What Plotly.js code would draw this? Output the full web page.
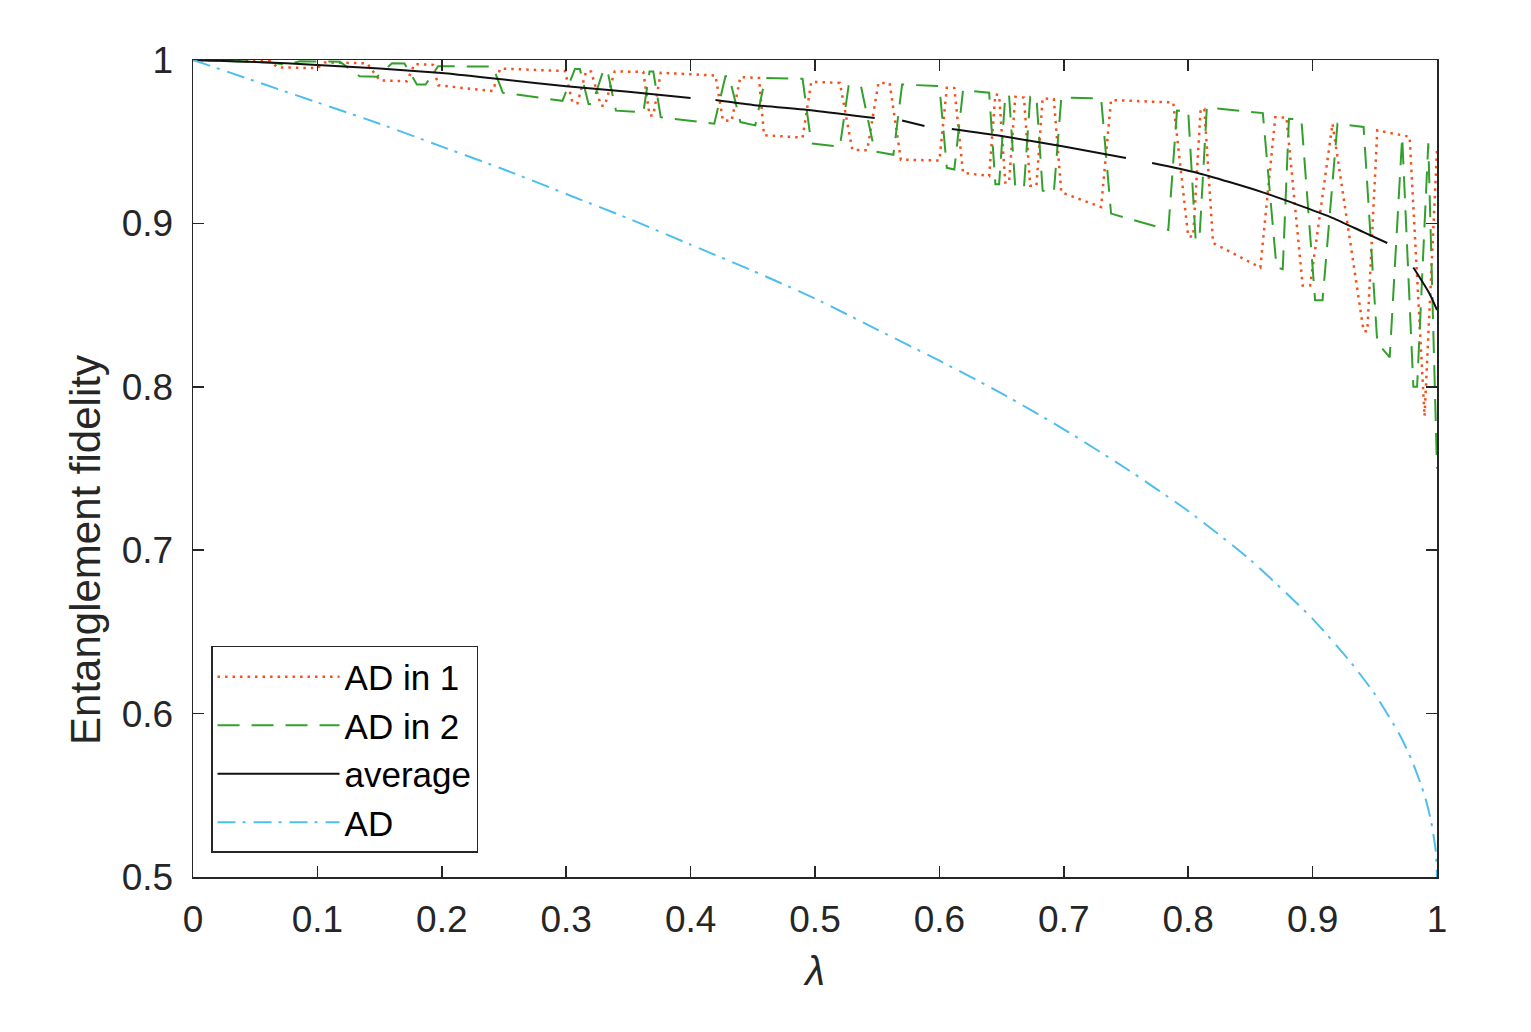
<!DOCTYPE html>
<html>
<head>
<meta charset="utf-8">
<script src="https://cdn.plot.ly/plotly-3.0.1.min.js"></script>
<style>
  html, body { margin: 0; padding: 0; background: #fff; }
  #plot { width: 1531px; height: 1032px; }
</style>
</head>
<body>
<div id="plot"></div>
<script>
// AD in 1 (red dotted)
var lam1 = [0, 0.062, 0.068, 0.100, 0.106, 0.140, 0.150, 0.172, 0.178, 0.193, 0.197, 0.241, 0.247, 0.299, 0.305, 0.309, 0.316, 0.320, 0.328, 0.331, 0.339, 0.362, 0.367, 0.370, 0.376, 0.420, 0.426, 0.433, 0.440, 0.455, 0.459, 0.490, 0.497, 0.520, 0.530, 0.542, 0.551, 0.560, 0.569, 0.600, 0.606, 0.612, 0.619, 0.640, 0.645, 0.648, 0.653, 0.656, 0.661, 0.668, 0.673, 0.678, 0.683, 0.692, 0.698, 0.730, 0.738, 0.788, 0.800, 0.804, 0.810, 0.813, 0.820, 0.858, 0.870, 0.879, 0.892, 0.898, 0.916, 0.941, 0.944, 0.952, 0.978, 0.990, 1.000];
var fid1 = [1.0, 0.9992, 0.9955, 0.9950, 0.9985, 0.9980, 0.9875, 0.9870, 0.9975, 0.9970, 0.9845, 0.9810, 0.9948, 0.9932, 0.9740, 0.9735, 0.9930, 0.9930, 0.9720, 0.9720, 0.9930, 0.9927, 0.9660, 0.9660, 0.9922, 0.9905, 0.9630, 0.9628, 0.9895, 0.9890, 0.9540, 0.9525, 0.9866, 0.9860, 0.9450, 0.9448, 0.9860, 0.9858, 0.9390, 0.9385, 0.9830, 0.9828, 0.9310, 0.9290, 0.9790, 0.9785, 0.9250, 0.9250, 0.9775, 0.9770, 0.9230, 0.9230, 0.9765, 0.9760, 0.9190, 0.9100, 0.9755, 0.9740, 0.8920, 0.8920, 0.9700, 0.9700, 0.8880, 0.8730, 0.9650, 0.9648, 0.8620, 0.8620, 0.9610, 0.8340, 0.8340, 0.9570, 0.9530, 0.7820, 0.9450];

// AD in 2 (green dashed)
var lam2 = [0, 0.062, 0.075, 0.086, 0.118, 0.134, 0.148, 0.160, 0.170, 0.180, 0.187, 0.197, 0.241, 0.249, 0.297, 0.307, 0.311, 0.318, 0.321, 0.330, 0.333, 0.340, 0.362, 0.367, 0.370, 0.376, 0.419, 0.428, 0.431, 0.440, 0.452, 0.460, 0.490, 0.497, 0.520, 0.527, 0.537, 0.548, 0.563, 0.570, 0.600, 0.606, 0.612, 0.619, 0.640, 0.645, 0.648, 0.653, 0.656, 0.661, 0.668, 0.673, 0.678, 0.683, 0.692, 0.698, 0.730, 0.738, 0.784, 0.791, 0.800, 0.806, 0.809, 0.815, 0.860, 0.871, 0.876, 0.881, 0.891, 0.902, 0.908, 0.920, 0.941, 0.952, 0.962, 0.972, 0.981, 0.984, 0.993, 1.000];
var fid2 = [1.0, 0.9985, 0.9970, 0.9992, 0.9990, 0.9900, 0.9898, 0.9980, 0.9978, 0.9850, 0.9850, 0.9962, 0.9960, 0.9800, 0.9750, 0.9945, 0.9945, 0.9730, 0.9730, 0.9940, 0.9940, 0.9690, 0.9680, 0.9930, 0.9930, 0.9650, 0.9610, 0.9900, 0.9900, 0.9620, 0.9600, 0.9890, 0.9885, 0.9490, 0.9470, 0.9840, 0.9838, 0.9440, 0.9420, 0.9850, 0.9840, 0.9340, 0.9330, 0.9816, 0.9800, 0.9240, 0.9240, 0.9785, 0.9785, 0.9220, 0.9220, 0.9775, 0.9775, 0.9200, 0.9190, 0.9770, 0.9765, 0.9060, 0.8960, 0.9690, 0.9688, 0.8900, 0.8900, 0.9710, 0.9675, 0.8730, 0.8720, 0.9640, 0.9635, 0.8530, 0.8530, 0.9610, 0.9590, 0.8270, 0.8180, 0.9530, 0.8000, 0.8000, 0.9490, 0.7500];

// average (black, drawn in pieces)
var lamAvg = [0, 0.05, 0.1, 0.15, 0.2, 0.25, 0.3, 0.35, 0.4, 0.41, 0.42, 0.45, 0.5, 0.548, 0.56, 0.57, 0.588, 0.6, 0.61, 0.65, 0.7, 0.75, 0.76, 0.771, 0.807, 0.86, 0.914, 0.94, 0.96, 0.97, 0.981, 0.994, 1.0];
var fidAvg = [1.0, 0.9988, 0.997, 0.9948, 0.992, 0.988, 0.984, 0.9805, 0.9767, null, 0.9755, 0.9725, 0.969, 0.9645, null, 0.963, 0.9596, null, 0.9578, 0.9535, 0.947, 0.940, null, 0.937, 0.931, 0.919, 0.904, 0.895, 0.888, null, 0.873, 0.857, 0.847];

// AD (cyan dash-dot)
var lamAD = [0, 0.05, 0.1, 0.15, 0.2, 0.25, 0.3, 0.35, 0.4, 0.45, 0.5, 0.55, 0.6, 0.65, 0.7, 0.75, 0.8, 0.85, 0.9, 0.93, 0.95, 0.97, 0.98, 0.99, 0.995, 0.999, 1.0];
var fidAD = [1, 0.987, 0.974, 0.961, 0.947, 0.933, 0.918, 0.903, 0.887, 0.871, 0.854, 0.835, 0.816, 0.796, 0.774, 0.75, 0.724, 0.694, 0.658, 0.632, 0.612, 0.587, 0.571, 0.55, 0.535, 0.516, 0.5];

var xTicks = [0, 0.1, 0.2, 0.3, 0.4, 0.5, 0.6, 0.7, 0.8, 0.9, 1];
var xLabels = ["0", "0.1", "0.2", "0.3", "0.4", "0.5", "0.6", "0.7", "0.8", "0.9", "1"];
var yTicks = [0.5, 0.6, 0.7, 0.8, 0.9, 1];
var yLabels = ["0.5", "0.6", "0.7", "0.8", "0.9", "1"];

var font = "Liberation Sans, Arial, Helvetica, sans-serif";
var ink = "#262626";

var traces = [
  {x: lam1, y: fid1, name: "AD in 1", type: "scatter", mode: "lines", legendgroup: "a",
   line: {color: "#f4511e", width: 2.5, dash: "2.5px,5px"}},
  {x: lam2, y: fid2, name: "AD in 2", type: "scatter", mode: "lines", legendgroup: "b",
   line: {color: "#33a02c", width: 2, dash: "22px,12px"}},
  {x: lamAvg, y: fidAvg, name: "average", type: "scatter", mode: "lines", legendgroup: "c",
   connectgaps: false, line: {color: "#111111", width: 2, shape: "spline", smoothing: 0.6}},
  {x: lamAD, y: fidAD, name: "AD", type: "scatter", mode: "lines", legendgroup: "d",
   line: {color: "#4dbeee", width: 2, dash: "18px,7px,3px,8px", shape: "spline", smoothing: 0.6}}
];

var axisCommon = {
  showline: true, linecolor: ink, linewidth: 1.5, mirror: "ticks",
  ticks: "inside", ticklen: 11, tickwidth: 1.5, tickcolor: ink,
  showgrid: false, zeroline: false,
  tickfont: {family: font, size: 37, color: ink}
};

var layout = {
  width: 1531, height: 1032,
  margin: {l: 193, r: 94, t: 60, b: 155},
  paper_bgcolor: "#ffffff", plot_bgcolor: "#ffffff",
  showlegend: true,
  xaxis: Object.assign({}, axisCommon, {
    range: [0, 1], tickvals: xTicks, ticktext: xLabels, ticklabelstandoff: 9,
    title: {text: "<i>λ</i>", font: {family: font, size: 40, color: ink}, standoff: 18}
  }),
  yaxis: Object.assign({}, axisCommon, {
    range: [0.5, 1], tickvals: yTicks, ticktext: yLabels, ticklabelstandoff: 11
  }),
  legend: {
    x: 0.0145, y: 0.0294, xanchor: "left", yanchor: "bottom",
    bgcolor: "#ffffff", bordercolor: ink, borderwidth: 1.5,
    font: {family: font, size: 35, color: "#000000"},
    itemwidth: 122, tracegroupgap: 9, traceorder: "normal"
  },
  annotations: [{
    text: "Entanglement fidelity", xref: "paper", yref: "paper",
    x: -0.087, y: 0.40, xanchor: "center", yanchor: "middle",
    textangle: -90, showarrow: false,
    font: {family: font, size: 42, color: ink}
  }]
};

Plotly.newPlot("plot", traces, layout, {displayModeBar: false, staticPlot: true});
</script>
</body>
</html>
